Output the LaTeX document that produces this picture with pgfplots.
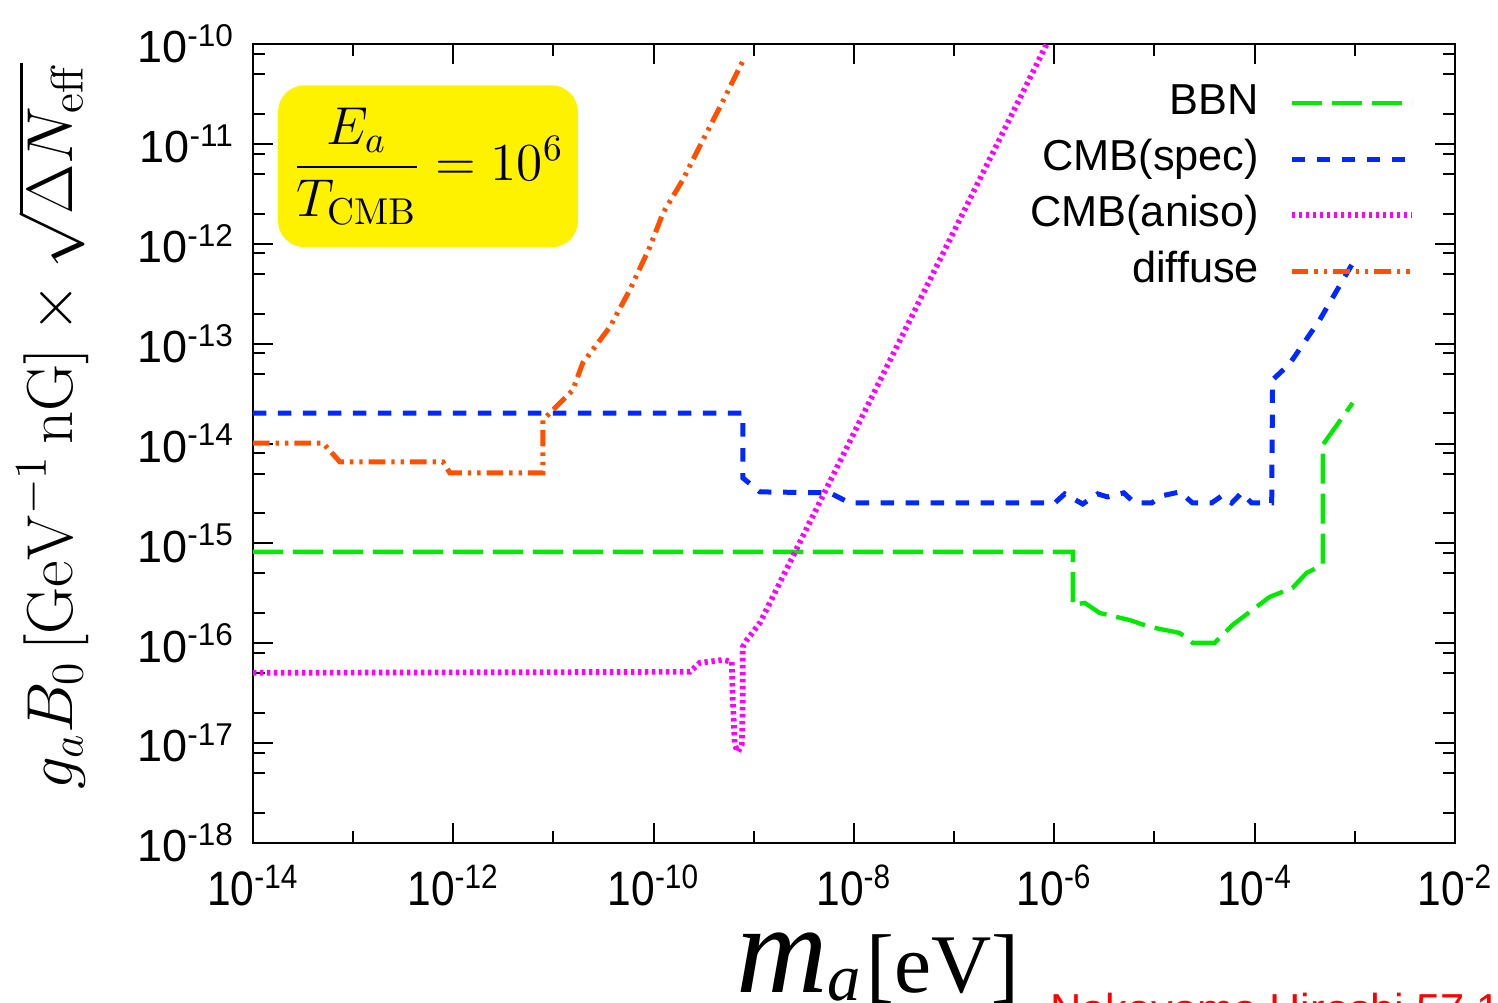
\RequirePackage{fix-cm}
\documentclass[border=0pt]{standalone}
\usepackage[no-math]{fontspec}
\setmainfont{Liberation Sans}
\newfontfamily\timesfont{Liberation Serif}
\usepackage{graphicx}
\usepackage{amsmath}
\usepackage{pgfplots}
\pgfplotsset{compat=1.18}
\definecolor{cbbn}{RGB}{0,235,0}
\definecolor{cspec}{RGB}{0,40,255}
\definecolor{caniso}{RGB}{255,0,255}
\definecolor{cdiff}{RGB}{255,80,0}
\newcommand\xl[1]{\scalebox{0.88}[1]{10\textsuperscript{#1}}}
\newcommand\yl[1]{10\textsuperscript{#1}}
\begin{document}
\begin{tikzpicture}
\begin{axis}[name=ax, scale only axis, width=360.6pt, height=239.7pt,
  xmode=log, ymode=log, xmin=1e-14, xmax=1e-2, ymin=1e-18, ymax=1e-10,
  clip=false,
  axis line style={line width=0.8pt},
  xtick={1e-14,1e-12,1e-10,1e-8,1e-6,1e-4,1e-2},
  xticklabels={\xl{-14},\xl{-12},\xl{-10},\xl{-8},\xl{-6},\xl{-4},\xl{-2}},
  minor xtick={1e-13,1e-11,1e-9,1e-7,1e-5,1e-3},
  ytick={1e-18,1e-17,1e-16,1e-15,1e-14,1e-13,1e-12,1e-11,1e-10},
  yticklabels={\yl{-18},\yl{-17},\yl{-16},\yl{-15},\yl{-14},\yl{-13},\yl{-12},\yl{-11},\yl{-10}},
  minor ytick={2e-18,5e-18,8e-18,2e-17,5e-17,8e-17,2e-16,5e-16,8e-16,2e-15,5e-15,8e-15,2e-14,5e-14,8e-14,2e-13,5e-13,8e-13,2e-12,5e-12,8e-12,2e-11,5e-11,8e-11},
  tick align=inside, major tick length=6pt, minor tick length=3.5pt,
  every tick/.style={line width=0.6pt, black},
  xticklabel style={font=\fontsize{14.5}{16}\selectfont, yshift=-3pt},
  yticklabel style={font=\fontsize{13.5}{15}\selectfont, xshift=-2pt},
  legend plot pos=right,
  legend cell align=right,
  legend image code/.code={\draw[#1] (0pt,0pt) -- (36pt,0pt);},
  legend style={draw=none, fill=none, at={(rel axis cs:0.967,0.958)}, anchor=north east,
    inner sep=0pt, font=\fontsize{13}{15}\selectfont, row sep=1.8pt,
    nodes={inner sep=1pt, text height=10pt, text depth=3pt},
    /tikz/every odd column/.append style={column sep=8pt}},
]
\addplot[cbbn, line width=1.3pt, dash pattern=on 9pt off 3pt] coordinates {
(1e-14,8.22e-16) (1.53e-6,8.22e-16) (1.53e-6,2.42e-16) (2.01e-6,2.54e-16) (2.84e-6,2.01e-16) (5.65e-6,1.71e-16) (8.95e-6,1.46e-16) (1.78e-5,1.27e-16) (2.40e-5,1.01e-16) (3.99e-5,1.01e-16) (6.03e-5,1.53e-16) (1.41e-4,2.91e-16) (2.39e-4,3.59e-16) (3.30e-4,5.07e-16) (4.78e-4,6.10e-16) (4.78e-4,9.68e-15) (9.51e-4,2.55e-14)};
\addlegendentry{BBN}
\addplot[cspec, line width=1.5pt, dash pattern=on 4pt off 3.5pt] coordinates {
(1e-14,2.02e-14) (7.76e-10,2.02e-14) (7.76e-10,4.53e-15) (1.15e-9,3.28e-15) (5.74e-9,3.21e-15) (9.08e-9,2.54e-15) (1.01e-6,2.54e-15) (1.27e-6,3.13e-15) (1.92e-6,2.48e-15) (2.71e-6,3.13e-15) (3.41e-6,2.92e-15) (4.93e-6,3.21e-15) (6.34e-6,2.54e-15) (9.38e-6,2.54e-15) (1.18e-5,2.99e-15) (1.79e-5,3.28e-15) (2.40e-5,2.54e-15) (3.72e-5,2.54e-15) (4.69e-5,2.99e-15) (5.90e-5,2.54e-15) (7.41e-5,3.21e-15) (9.33e-5,2.54e-15) (1.48e-4,2.54e-15) (1.51e-4,4.34e-14) (2.23e-4,6.27e-14) (4.46e-4,1.73e-13) (9.95e-4,6.89e-13)};
\addlegendentry{CMB(spec)}
\addplot[caniso, line width=1.7pt, dash pattern=on 1pt off 1.1pt] coordinates {
(1e-14,5.06e-17) (2.30e-10,5.18e-17) (2.89e-10,6.37e-17) (4.91e-10,6.82e-17) (6.03e-10,6.52e-17) (6.17e-10,2.71e-17) (6.46e-10,9.62e-18) (6.92e-10,8.18e-18) (7.59e-10,9.62e-18) (7.76e-10,2.71e-17) (7.76e-10,9.20e-17) (8.51e-10,1.08e-16) (1.15e-9,1.60e-16) (8.40e-7,1e-10)};
\addlegendentry{CMB(aniso)}
\addplot[cdiff, line width=1.5pt, dash pattern=on 5pt off 1.8pt on 1pt off 1.8pt on 1pt off 1.8pt] coordinates {
(1e-14,1.01e-14) (5.00e-14,1.01e-14) (7.38e-14,6.55e-15) (7.87e-13,6.55e-15) (9.25e-13,5.08e-15) (7.83e-12,5.08e-15) (7.83e-12,1.72e-14) (9.21e-12,2.02e-14) (1.56e-11,3.44e-14) (1.96e-11,6.41e-14) (3.66e-11,1.47e-13) (5.78e-11,3.45e-13) (9.16e-11,9.29e-13) (1.24e-10,2.03e-12) (1.95e-10,4.35e-12) (3.10e-10,1.09e-11) (4.80e-10,2.56e-11) (8.13e-10,7.41e-11)};
\addlegendentry{diffuse}
\node[fill=yellow, rounded corners=8pt, minimum width=90pt, minimum height=48.6pt, inner sep=0pt] at (rel axis cs:0.1456,0.847) {\fontsize{16}{18}\selectfont $\dfrac{E_a}{T_{\mathrm{CMB}}}=10^6$};
\node[rotate=90] at (rel axis cs:-0.1665,0.522) {\fontsize{19.5}{22}\selectfont $g_aB_0\,[\mathrm{GeV}^{-1}\,\mathrm{nG}]\times\sqrt{\Delta N_{\mathrm{eff}}}$};
\node[anchor=base, inner sep=0pt] at (rel axis cs:0.52,-0.1865) {\timesfont{\fontsize{38}{40}\selectfont\itshape m}{\fontsize{20}{22}\selectfont\itshape\raisebox{-2.5pt}{a}}\,{\fontsize{25}{28}\selectfont[eV]}};
\node[anchor=north west, text=red, inner sep=0pt, font=\fontsize{13}{15}\selectfont] at (rel axis cs:0.663,-0.1875) {Nakayama Hiroshi 57 12};
\end{axis}
\pgfresetboundingbox
\path[use as bounding box] ([xshift=-75.9pt,yshift=-47.7pt]ax.south west) rectangle ([xshift=12.9pt,yshift=13.2pt]ax.north east);
\end{tikzpicture}
\end{document}
